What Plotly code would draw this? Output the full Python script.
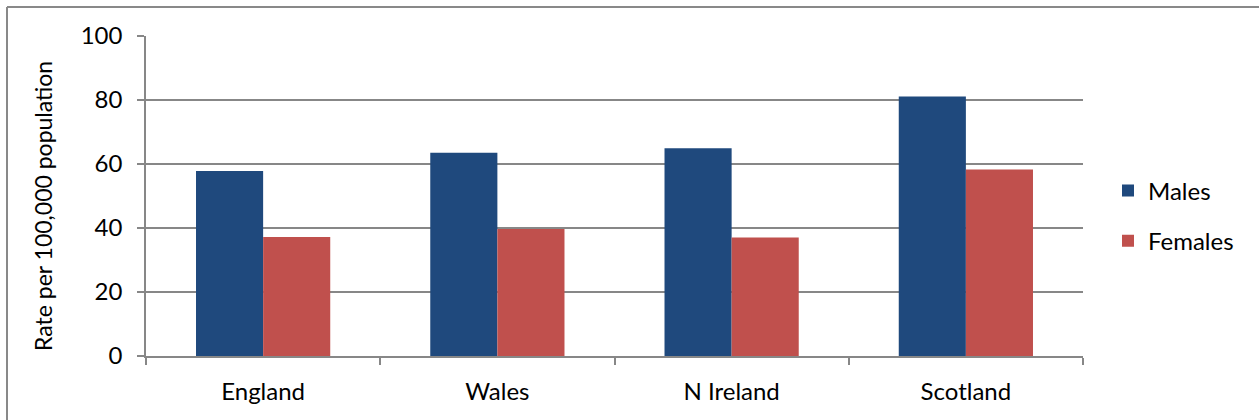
import plotly.graph_objects as go

categories = ["England", "Wales", "N Ireland", "Scotland"]
males = [57.8, 63.5, 64.9, 81.1]
females = [37.2, 39.7, 37.0, 58.3]
y_ticks = [0, 20, 40, 60, 80, 100]

FONT = "Lato"
GRID = "#878787"

fig = go.Figure()
fig.add_trace(go.Bar(name="Males", x=categories, y=males,
                     marker=dict(color="#1F497D", line=dict(width=0)),
                     legendgroup="m"))
fig.add_trace(go.Bar(name="Females", x=categories, y=females,
                     marker=dict(color="#C0504D", line=dict(width=0)),
                     legendgroup="f"))

L, R, T, B = 146, 1083, 36, 356
W, H = 1259, 420
pw, ph = R - L, B - T

def px(X):
    return (X - L) / pw

def py(Y):
    return (B - Y) / ph

fig.update_layout(
    width=W, height=H,
    margin=dict(l=L, r=W - R, t=T, b=H - B, autoexpand=False),
    paper_bgcolor="white", plot_bgcolor="white",
    barmode="group", bargap=0.427, bargroupgap=0,
    font=dict(family=FONT, size=24, color="black"),
    showlegend=True,
    legend=dict(x=px(1108), xanchor="left", y=py(216), yanchor="middle",
                tracegroupgap=16, traceorder="grouped",
                font=dict(family=FONT, size=24), bgcolor="rgba(0,0,0,0)"),
    xaxis=dict(showline=True, linecolor=GRID, linewidth=1.5,
               ticks="outside", tickson="boundaries", ticklen=7,
               tickcolor=GRID, tickwidth=1.5, showgrid=False,
               ticklabelstandoff=13,
               tickfont=dict(family=FONT, size=24)),
    yaxis=dict(range=[0, 100], tickvals=y_ticks, showline=True,
               linecolor=GRID, linewidth=1.5, ticks="outside", ticklen=7,
               tickcolor=GRID, tickwidth=1.5, showgrid=True,
               gridcolor=GRID, gridwidth=1.5, zeroline=False,
               ticklabelstandoff=10,
               tickfont=dict(family=FONT, size=24)),
    annotations=[
        dict(text="Rate per 100,000 population", textangle=-90,
             xref="paper", yref="paper", x=px(43), y=py(206),
             xanchor="center", yanchor="middle", showarrow=False,
             font=dict(family=FONT, size=23, color="black")),
    ],
    shapes=[
        dict(type="line", xref="paper", yref="paper",
             x0=px(7), x1=px(1262), y0=py(7), y1=py(7),
             line=dict(color="#898989", width=2)),
        dict(type="line", xref="paper", yref="paper",
             x0=px(7), x1=px(7), y0=py(7), y1=py(425),
             line=dict(color="#898989", width=2)),
    ],
)

fig.write_html("out.html")
